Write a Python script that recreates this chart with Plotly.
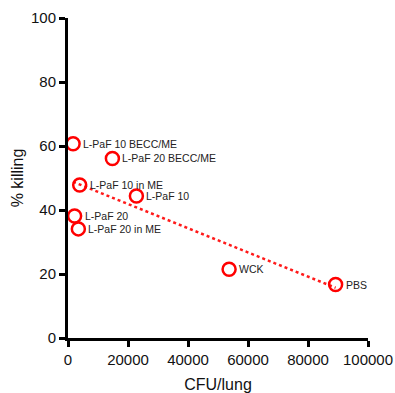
import plotly.graph_objects as go

labels = ["L-PaF 10 BECC/ME", "L-PaF 20 BECC/ME", "L-PaF 10 in ME", "L-PaF 10",
          "L-PaF 20", "L-PaF 20 in ME", "WCK", "PBS"]
cfu = [1700, 14800, 3900, 22800, 2200, 3450, 53700, 89200]
killing = [60.7, 56.1, 47.8, 44.4, 38.1, 34.1, 21.5, 16.7]

fit_x = [1700, 89200]
fit_y = [48.8, 15.7]

x_ticks = [0, 20000, 40000, 60000, 80000, 100000]
y_ticks = [0, 20, 40, 60, 80, 100]

fig = go.Figure()
fig.add_trace(go.Scatter(x=fit_x, y=fit_y, mode="lines",
                         line=dict(color="#ff1a1a", width=2.5, dash="dot"),
                         showlegend=False, hoverinfo="skip"))
fig.add_trace(go.Scatter(x=cfu, y=killing, mode="markers",
                         marker=dict(symbol="circle-open", size=13, color="#ff0000",
                                     line=dict(width=2.5, color="#ff0000")),
                         showlegend=False, cliponaxis=False))

for lab, xv, yv in zip(labels, cfu, killing):
    fig.add_annotation(x=xv, y=yv, text=lab, showarrow=False, xanchor="left",
                       yanchor="middle", xshift=8,
                       font=dict(family="Liberation Sans, Arial", size=10.5, color="#222222"))

axis_common = dict(showline=True, linewidth=3, linecolor="black", ticks="outside",
                   ticklen=6, tickwidth=3, tickcolor="black", showgrid=False,
                   zeroline=False, mirror=False, automargin=False,
                   ticklabeloverflow="allow",
                   tickfont=dict(family="Liberation Sans, Arial", size=15, color="#111111"),
                   title_font=dict(family="Liberation Sans, Arial", size=16, color="#111111"))

fig.update_xaxes(range=[0, 100000], tickvals=x_ticks, ticktext=[str(v) for v in x_ticks],
                 title_text="CFU/lung", title_standoff=15, **axis_common)
fig.update_yaxes(range=[0, 100], tickvals=y_ticks, ticktext=[str(v) for v in y_ticks],
                 title_text="% killing", title_standoff=4, **axis_common)

fig.update_layout(width=395, height=393, margin=dict(l=68, r=27, t=18, b=55),
                  plot_bgcolor="white", paper_bgcolor="white")

fig.write_html("out.html", config={"displayModeBar": False},
               post_script="document.body.style.margin='0px';document.body.style.overflow='hidden';")
